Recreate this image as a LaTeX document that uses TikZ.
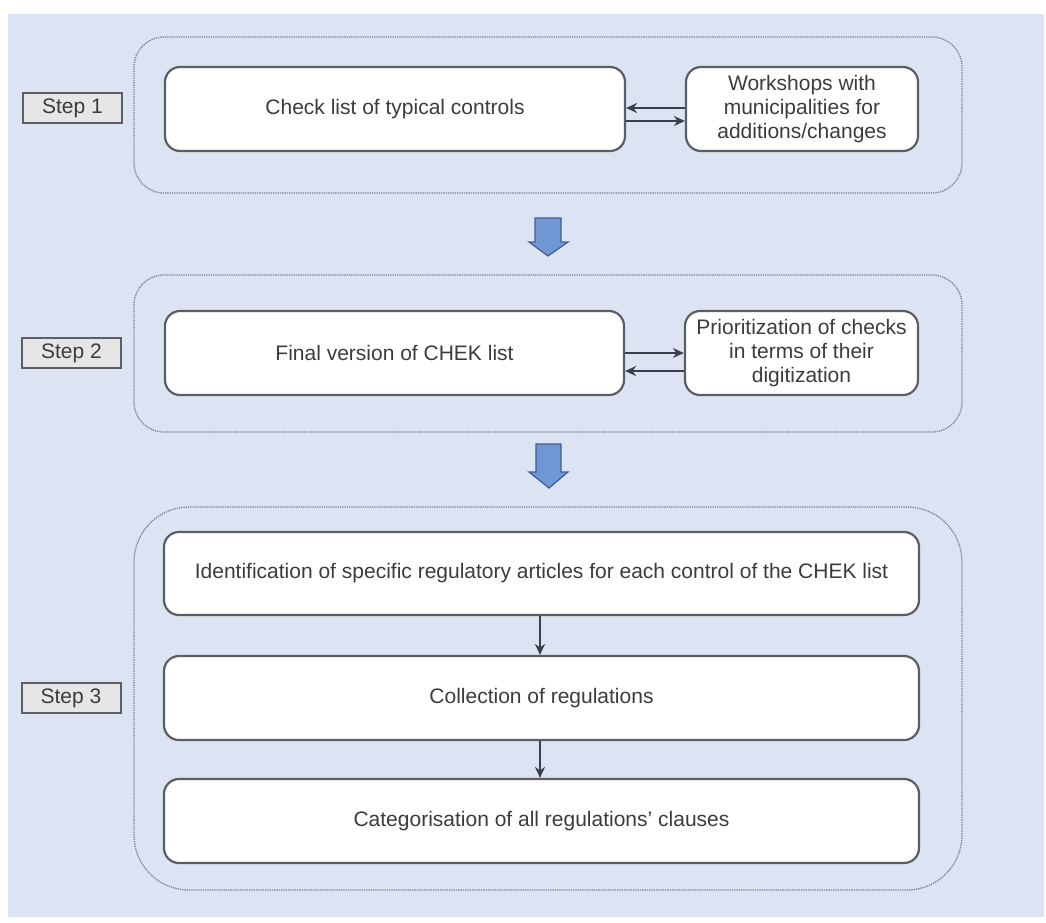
\documentclass[tikz,border=0pt]{standalone}
\usepackage{fontspec}
\setmainfont{Liberation Sans}
\usetikzlibrary{arrows.meta}
\definecolor{bgblue}{HTML}{DCE3F2}
\definecolor{framegray}{HTML}{7C818C}
\definecolor{boxline}{HTML}{5C5E63}
\definecolor{txtgray}{HTML}{3C3C3C}
\definecolor{labelfill}{HTML}{E6E6E6}
\definecolor{bigarrow}{HTML}{7096D4}
\definecolor{bigarrowline}{HTML}{3F5E92}
\definecolor{connline}{HTML}{3A3F4A}
\tikzset{
  stepframe/.style={draw=framegray, line width=1.3pt, densely dotted, rounded corners=30pt},
  taskbox/.style={draw=boxline, fill=white, line width=2.2pt, rounded corners=15pt,
    align=center, text=txtgray, font=\fontsize{21}{24}\selectfont, inner sep=0pt},
  steplabel/.style={draw=boxline, fill=labelfill, line width=2pt, text=txtgray,
    font=\fontsize{21}{24}\selectfont, minimum width=99pt, minimum height=30pt, inner sep=0pt},
  conn/.style={draw=connline, line width=1.8pt, -{Stealth[length=11pt,width=10pt]}},
  flowarrow/.style={fill=bigarrow, draw=bigarrowline, line width=1.2pt, line join=miter}
}
\begin{document}
\begin{tikzpicture}[x=1pt,y=-1pt]
\useasboundingbox (0,0) rectangle (1046,922);
% page background
\fill[white] (0,0) rectangle (1046,922);
\fill[bgblue] (8,14) rectangle (1044,917);

% step frames
\node[stepframe, minimum width=828pt, minimum height=156pt] (frame1) at (548,115) {};
\node[stepframe, minimum width=828pt, minimum height=157pt] (frame2) at (548,353.5) {};
\node[stepframe, rounded corners=55pt, minimum width=828pt, minimum height=383pt] (frame3) at (548,698.5) {};

% step labels
\node[steplabel] (lab1) at (72.5,108) {Step 1};
\node[steplabel] (lab2) at (71.5,353) {Step 2};
\node[steplabel] (lab3) at (71,698) {Step 3};

% step 1
\node[taskbox, minimum width=460pt, minimum height=84pt] (check) at (395,109) {Check list of typical controls};
\node[taskbox, minimum width=232pt, minimum height=84pt] (work) at (802,109)
  {Workshops with\\municipalities for\\additions/changes};
\draw[conn] ([yshift=1pt]work.west) -- ([yshift=1pt]check.east);
\draw[conn] ([yshift=-12pt]check.east) -- ([yshift=-12pt]work.west);

% step 2
\node[taskbox, minimum width=459pt, minimum height=84pt] (final) at (394.5,353) {Final version of CHEK list};
\node[taskbox, minimum width=233pt, minimum height=84pt] (prio) at (801.5,353)
  {Prioritization of checks\\in terms of their\\digitization};
\draw[conn] (final.east) -- (prio.west);
\draw[conn] ([yshift=-18pt]prio.west) -- ([yshift=-18pt]final.east);

% step 3
\node[taskbox, minimum width=755pt, minimum height=83pt] (ident) at (541.5,573.5)
  {Identification of specific regulatory articles for each control of the CHEK list};
\node[taskbox, minimum width=755pt, minimum height=84pt] (coll) at (541.5,698) {Collection of regulations};
\node[taskbox, minimum width=755pt, minimum height=84pt] (categ) at (541.5,821)
  {Categorisation of all regulations’ clauses};
\draw[conn] ([xshift=-1.5pt]ident.south) -- ([xshift=-1.5pt]coll.north);
\draw[conn] ([xshift=-1.5pt]coll.south) -- ([xshift=-1.5pt]categ.north);

% block arrows between steps
\draw[flowarrow] (535,218) -- (561,218) -- (561,242) -- (568,242) -- (548,256)
  -- (529,242) -- (535,242) -- cycle;
\draw[flowarrow] (536,444) -- (561,444) -- (561,472) -- (568,472) -- (549,488)
  -- (529,472) -- (536,472) -- cycle;
\end{tikzpicture}
\end{document}
